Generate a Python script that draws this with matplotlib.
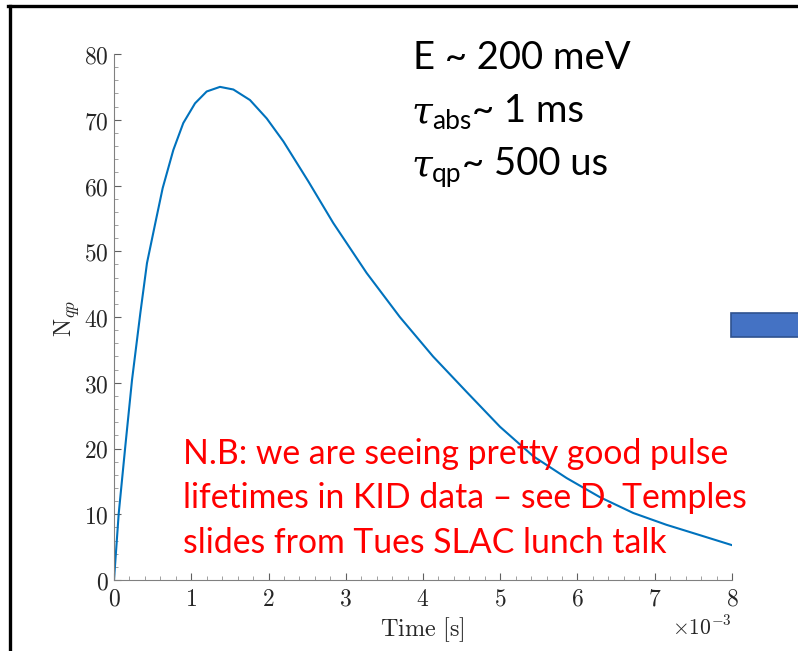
import matplotlib
matplotlib.use("Agg")
import matplotlib.pyplot as plt
from matplotlib.lines import Line2D
from matplotlib.patches import Rectangle
from matplotlib.ticker import MultipleLocator, FuncFormatter

# ---- data (time in ms, N_qp) ----
time_ms = [0.0, 0.061, 0.146, 0.233, 0.341, 0.427, 0.535, 0.63, 0.768, 0.897,
           1.049, 1.20, 1.372, 1.545, 1.76, 1.977, 2.193, 2.517, 2.838, 3.27,
           3.70, 4.13, 4.565, 4.997, 5.43, 5.86, 6.29, 6.72, 7.15, 7.59, 8.0]
n_qp = [0.0, 10.1, 20.3, 30.4, 40.6, 48.2, 54.3, 59.6, 65.4, 69.5,
        72.5, 74.3, 75.0, 74.6, 73.0, 70.2, 66.7, 60.6, 54.3, 46.7,
        40.0, 34.0, 28.6, 23.3, 18.8, 15.5, 12.6, 10.2, 8.4, 6.8, 5.3]
x_ticks = [0, 1, 2, 3, 4, 5, 6, 7, 8]
y_ticks = [0, 10, 20, 30, 40, 50, 60, 70, 80]
param_lines = [("E", "", "~ 200 meV"), ("τ", "abs", "~ 1 ms"), ("τ", "qp", "~ 500 us")]
note_lines = ["N.B: we are seeing pretty good pulse",
              "lifetimes in KID data – see D. Temples",
              "slides from Tues SLAC lunch talk"]

W, H = 798, 651
fig = plt.figure(figsize=(W / 100, H / 100), dpi=100)
fig.patch.set_facecolor("white")

def fx(px):
    return px / W

def fy(py):
    return 1 - py / H

ax = fig.add_axes([fx(114), fy(580), fx(732) - fx(114), fy(54) - fy(580)])
ax.plot(time_ms, n_qp, color="#0072BD", lw=1.5, solid_joinstyle="round")
ax.set_xlim(0, 8)
ax.set_ylim(0, 80)
ax.set_xticks(x_ticks)
ax.set_yticks(y_ticks)
ax.xaxis.set_minor_locator(MultipleLocator(0.2))
ax.yaxis.set_minor_locator(MultipleLocator(2))
fmt = FuncFormatter(lambda v, p: r"$%d$" % round(v))
ax.xaxis.set_major_formatter(fmt)
ax.yaxis.set_major_formatter(fmt)
for s in ["top", "right"]:
    ax.spines[s].set_visible(False)
for s in ["left", "bottom"]:
    ax.spines[s].set_color("#808080")
    ax.spines[s].set_linewidth(0.8)
ax.tick_params(which="major", direction="in", length=5, width=0.8, color="#606060",
               labelsize=17, labelcolor="#262626")
ax.tick_params(which="minor", direction="in", length=3, width=0.6, color="#909090")
ax.tick_params(axis="x", pad=5)
ax.tick_params(axis="y", pad=4)
for lab in ax.get_xticklabels() + ax.get_yticklabels():
    lab.set_math_fontfamily("cm")

fig.text(fx(422), fy(630), r"$\mathrm{Time\ [s]}$", fontsize=17.5, color="#262626",
         ha="center", va="center", math_fontfamily="cm")
fig.text(fx(732), fy(627), r"$\times10^{-3}$", fontsize=15.5, color="#262626",
         ha="right", va="center", math_fontfamily="cm")
fig.text(fx(67), fy(318), r"$\mathrm{N}_{qp}$", fontsize=17.5, color="#262626",
         ha="center", va="center", rotation=90, math_fontfamily="cm")

# parameter text (top right)
base_y = [69, 122, 175]
rest_x = {"abs": 472, "qp": 462}
for (sym, sub, rest), by in zip(param_lines, base_y):
    if sub:
        fig.text(fx(412), fy(by), sym, fontsize=27, family="DejaVu Serif",
                 style="italic", color="black", va="baseline", ha="left")
        fig.text(fx(432), fy(by + 7), sub, fontsize=19, family="Lato",
                 color="black", va="baseline", ha="left")
        fig.text(fx(rest_x[sub]), fy(by), rest, fontsize=27.5,
                 family="Lato", color="black", va="baseline", ha="left")
    else:
        fig.text(fx(413), fy(by), sym + " " + rest, fontsize=27.5, family="Lato",
                 color="black", va="baseline", ha="left")

# red note
for i, line in enumerate(note_lines):
    fig.text(fx(183), fy(464 + 44.5 * i), line, fontsize=24.3, family="Lato",
             color="#FF0000", va="baseline", ha="left")

# slide border and blue box
fig.add_artist(Line2D([fx(9.5), fx(9.5)], [0, fy(5.5)], color="black", lw=2.4,
                      transform=fig.transFigure))
fig.add_artist(Line2D([fx(8.3), 1], [fy(5.5), fy(5.5)], color="black", lw=2.4,
                      transform=fig.transFigure))
fig.add_artist(Rectangle((fx(731), fy(337)), fx(80), fy(313) - fy(337),
                         facecolor="#4472C4", edgecolor="#2F528F", lw=1.2,
                         transform=fig.transFigure))

fig.savefig("out.png", dpi=100, facecolor="white")
